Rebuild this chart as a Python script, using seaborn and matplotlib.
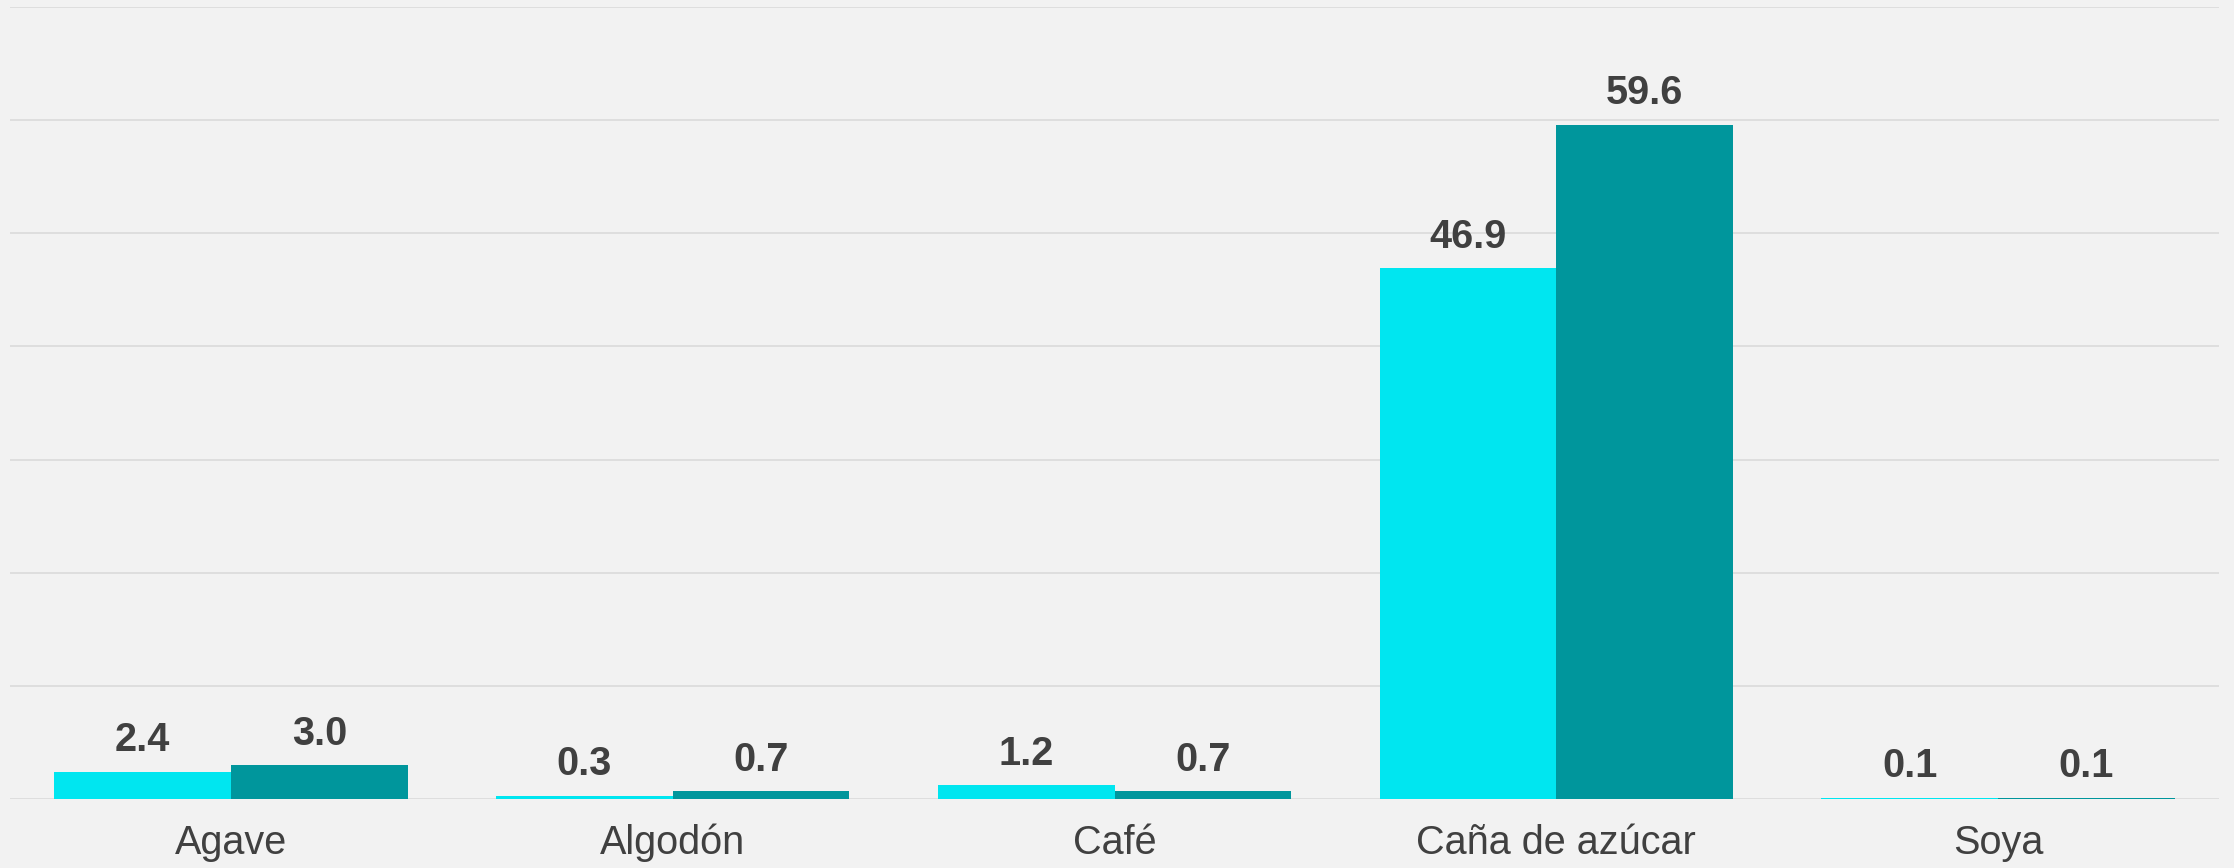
import pandas as pd
import numpy as np
import matplotlib
matplotlib.use("Agg")
import matplotlib.pyplot as plt
import seaborn as sns

# datos
cultivos = ["Agave", "Algodón", "Café", "Caña de azúcar", "Soya"]
serie_1 = [2.4, 0.3, 1.2, 46.9, 0.1]
serie_2 = [3.0, 0.7, 0.7, 59.6, 0.1]
series = ["Serie 1", "Serie 2"]
colores = ["#00E6F0", "#00969C"]

df = pd.DataFrame({
    "cultivo": cultivos * 2,
    "valor": serie_1 + serie_2,
    "serie": [series[0]] * len(cultivos) + [series[1]] * len(cultivos),
})

sns.set_theme(style="white")
plt.rcParams["font.family"] = ["Liberation Sans", "DejaVu Sans"]

fig = plt.figure(figsize=(22.34, 8.68), dpi=100, facecolor="#F2F2F2")
ax = fig.add_axes([0.0045, 0.0795, 0.9888, 0.9125])
ax.set_facecolor("#F2F2F2")

sns.barplot(data=df, x="cultivo", y="valor", hue="serie", palette=colores,
            width=0.8, dodge=True, saturation=1, legend=False, ax=ax,
            linewidth=0, zorder=3)

# etiquetas de valor
for cont in ax.containers:
    ax.bar_label(cont, fmt="%.1f", padding=9, fontsize=28.5, fontweight="bold",
                 color="#404040")

ax.set_ylim(0, 70)
ax.set_xlim(-0.5, 4.5)
ax.set_yticks(np.arange(0, 71, 10))
ax.set_yticklabels([])
ax.grid(axis="y", color="#D9D9D9", linewidth=1.1, zorder=0)
ax.grid(axis="x", visible=False)
for s in ax.spines.values():
    s.set_visible(False)
ax.tick_params(axis="x", length=0, pad=18, labelsize=28.5, labelcolor="#404040")
ax.tick_params(axis="y", length=0)
ax.set_xlabel("")
ax.set_ylabel("")

plt.savefig("out.png", dpi=100, facecolor="#F2F2F2")
